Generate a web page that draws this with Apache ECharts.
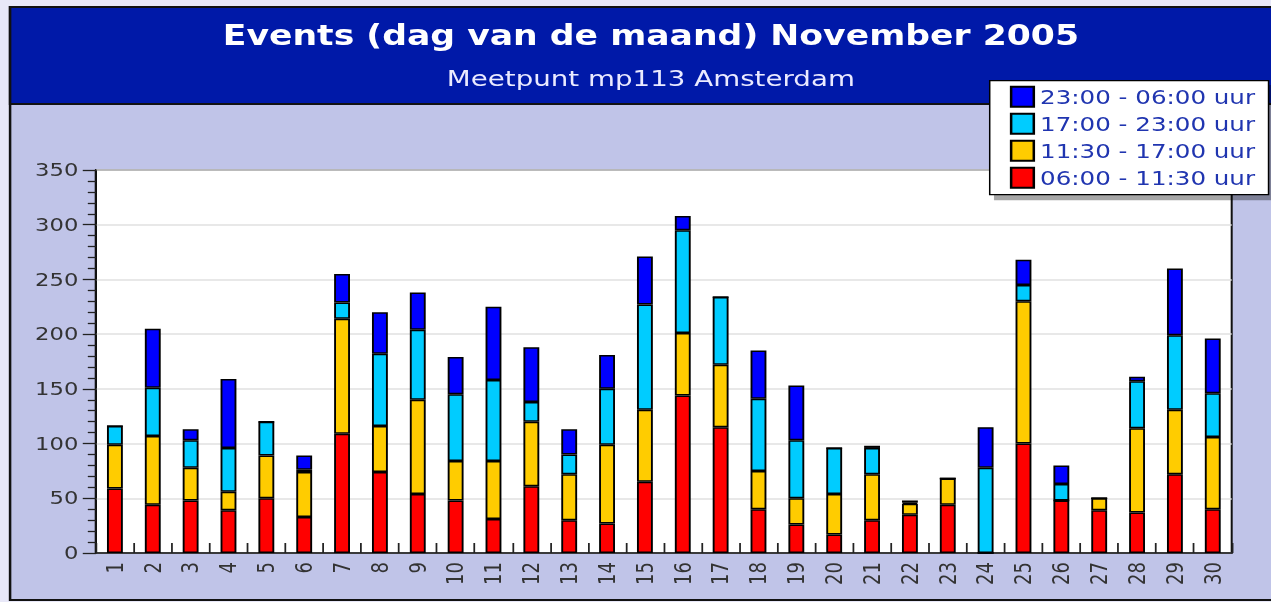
<!DOCTYPE html>
<html>
<head>
<meta charset="utf-8">
<script src="https://cdn.jsdelivr.net/npm/echarts@6/dist/echarts.min.js"></script>
<style>
html,body{margin:0;padding:0;background:#e8e8f8;}
#wrap{width:1271px;height:602px;overflow:hidden;background:#e8e8f8;}
#main{width:1009px;height:602px;transform:scaleX(1.25966);transform-origin:0 0;}
</style>
</head>
<body>
<div id="wrap"><div id="main"></div></div>
<script>
var days = ['1','2','3','4','5','6','7','8','9','10','11','12','13','14','15','16','17','18','19','20','21','22','23','24','25','26','27','28','29','30'];
var yTicks = [0,50,100,150,200,250,300,350];
var seriesNames = ['06:00 - 11:30 uur','11:30 - 17:00 uur','17:00 - 23:00 uur','23:00 - 06:00 uur'];
var red    = [59,44,48,39,50,33,109,74,54,48,31,61,30,27,65,144,115,40,26,17,30,35,44,0,100,48,39,37,72,40];
var yellow = [40,63,30,17,39,41,105,42,86,36,53,59,42,72,66,57,57,35,24,37,42,10,24,0,130,0,11,77,59,66];
var cyan   = [17,44,25,40,31,2,15,66,64,61,74,18,18,51,96,94,62,66,53,42,24,1,0,78,15,15,0,43,68,40];
var blue   = [0,54,10,63,0,13,26,38,34,34,67,50,23,31,44,13,0,44,50,0,2,2,0,37,23,17,0,4,61,50];
var colors = ['#ff0000','#ffcc00','#00ccff','#0000ff'];
var values = [red, yellow, cyan, blue];

var chart = echarts.init(document.getElementById('main'), null, {renderer:'svg', width:1009, height:602});
var FONT = 'DejaVu Sans';
var series = values.map(function(v, i){
  return {
    name: seriesNames[i], type:'bar', stack:'total', data:v, barWidth:12.6,
    itemStyle:{color:colors[i], borderColor:'#000', borderWidth:1.5},
    emphasis:{disabled:true}
  };
});
chart.setOption({
  backgroundColor:'#e8e8f8',
  animation:false,
  graphic:[
    {type:'rect', z:-10, shape:{x:8, y:7, width:1100, height:593}, style:{fill:'#c0c4e8', stroke:'#111', lineWidth:2}},
    {type:'rect', z:-9, shape:{x:8, y:7, width:1100, height:97}, style:{fill:'#0019a8', stroke:'#111', lineWidth:2}}
  ],
  title:[
    {text:'Events (dag van de maand) November 2005', left:516.7, textAlign:'center', top:21, padding:0,
     textStyle:{color:'#ffffff', fontSize:27.5, fontWeight:'bold', fontFamily:FONT}},
    {text:'Meetpunt mp113 Amsterdam', left:516.7, textAlign:'center', top:68, padding:0,
     textStyle:{color:'#eaeaff', fontSize:22, fontWeight:'normal', fontFamily:FONT}}
  ],
  legend:{
    orient:'vertical', left:785.7, top:80.7, padding:[5,10.6,6,16],
    itemWidth:18, itemHeight:20, itemGap:5, icon:'rect',
    data:[seriesNames[3], seriesNames[2], seriesNames[1], seriesNames[0]],
    backgroundColor:'#ffffff', borderColor:'#000', borderWidth:1.2,
    shadowColor:'rgba(0,0,0,0.35)', shadowOffsetX:4, shadowOffsetY:5, shadowBlur:0,
    textStyle:{color:'#2035b0', fontSize:19.5, fontFamily:FONT},
    selectedMode:false
  },
  grid:{left:76.2, right:31.2, top:170, bottom:49, show:true, backgroundColor:'#ffffff', borderColor:'#111', borderWidth:1.6},
  xAxis:{
    type:'category', data:days,
    axisLine:{show:true, lineStyle:{color:'#111', width:1.6}},
    axisTick:{show:true, inside:true, length:10, alignWithLabel:false, interval:0, lineStyle:{color:'#222', width:1.4}},
    axisLabel:{rotate:90, interval:0, fontSize:18, color:'#333', fontFamily:FONT, margin:9},
    splitLine:{show:false}
  },
  yAxis:{
    type:'value', min:yTicks[0], max:yTicks[yTicks.length-1], interval:50,
    axisLine:{show:true, lineStyle:{color:'#111', width:1.6}},
    axisTick:{show:true, length:10.5, lineStyle:{color:'#222', width:1.3}},
    minorTick:{show:true, splitNumber:5, length:6.5, lineStyle:{color:'#222', width:1.3}},
    axisLabel:{fontSize:18, color:'#333', fontFamily:FONT, margin:14},
    splitLine:{show:true, lineStyle:{color:'#e0e0e0', width:1.6}}
  },
  series:series
});
</script>
</body>
</html>
